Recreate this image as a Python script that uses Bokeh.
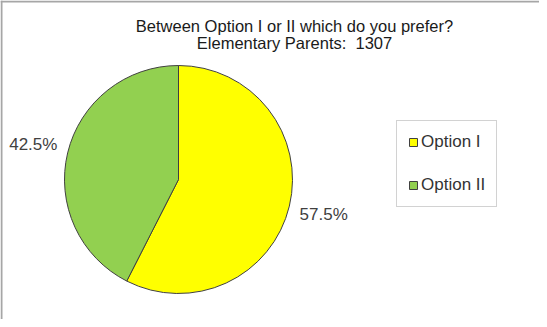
import numpy as np
from bokeh.plotting import figure
from bokeh.models import Range1d, Label, Span, ColumnDataSource
from bokeh.embed import file_html
from bokeh.resources import INLINE

# ---- data ----
categories = ["Option I", "Option II"]
values = [57.5, 42.5]
colors = ["#FFFF00", "#92D050"]
value_labels = ["57.5%", "42.5%"]
title_lines = ["Between Option I or II which do you prefer?", "Elementary Parents:\u00a0 1307"]

# ---- geometry (pie drawn clockwise from 12 o'clock) ----
frac = np.array(values) / sum(values)
cum = np.cumsum(frac)
end_ang = np.pi / 2 - np.concatenate([[0.0], cum[:-1]]) * 2 * np.pi
start_ang = np.pi / 2 - cum * 2 * np.pi
mid = (start_ang + end_ang) / 2
LR = 1.31

src = ColumnDataSource(dict(
    category=categories, value=values, color=colors,
    start=start_ang, end=end_ang,
    lx=LR * np.cos(mid), ly=LR * np.sin(mid), lab=value_labels,
))

W, H = 539, 319
PX = 114.0          # pixels per data unit (pie radius = 1)
cx, cy = 178.0, 140.0  # pie centre in pixels from frame left / bottom

p = figure(width=W, height=H, output_backend="svg", toolbar_location=None,
           x_range=Range1d(-cx / PX, (W - cx) / PX),
           y_range=Range1d(-cy / PX, (H - cy) / PX),
           min_border=0)
p.axis.visible = False
p.grid.visible = False
p.outline_line_color = None
p.background_fill_color = "white"
p.border_fill_color = "white"

p.wedge(x=0, y=0, radius=1, start_angle="start", end_angle="end",
        fill_color="color", line_color="#404040", line_width=1,
        source=src, legend_field="category")

p.text(x="lx", y="ly", text="lab", source=src, text_align="center",
       text_baseline="middle", text_font_size="17px",
       text_font={"value": "Liberation Sans"}, text_color="#404040")

# chart-area frame (left and top edges visible in the window)
x0 = p.x_range.start
y1 = p.y_range.end
p.add_layout(Span(location=x0 + 1.0 / PX, dimension="height", line_color="#a6a6a6", line_width=2))
p.add_layout(Span(location=y1 - 1.0 / PX, dimension="width", line_color="#a6a6a6", line_width=2))

# title
for i, t in enumerate(title_lines):
    p.add_layout(Label(x=294, y=H - 25 - 17.5 * i, x_units="screen", y_units="screen",
                       text=t, text_align="center", text_baseline="middle",
                       text_font="Liberation Sans", text_font_size="16.5px",
                       text_color="#1a1a1a"))

# legend
lg = p.legend[0]
lg.location = (396, 112)
lg.border_line_color = "#a6a6a6"
lg.border_line_width = 1
lg.background_fill_color = "white"
lg.background_fill_alpha = 1
lg.padding = 11
lg.margin = 0
lg.spacing = 23
lg.glyph_width = 10
lg.glyph_height = 10
lg.label_height = 20
lg.label_standoff = 3
lg.label_text_font = "Liberation Sans"
lg.label_text_font_size = "17px"
lg.label_text_color = "#333333"

open("out.html", "w").write(file_html(p, INLINE))
